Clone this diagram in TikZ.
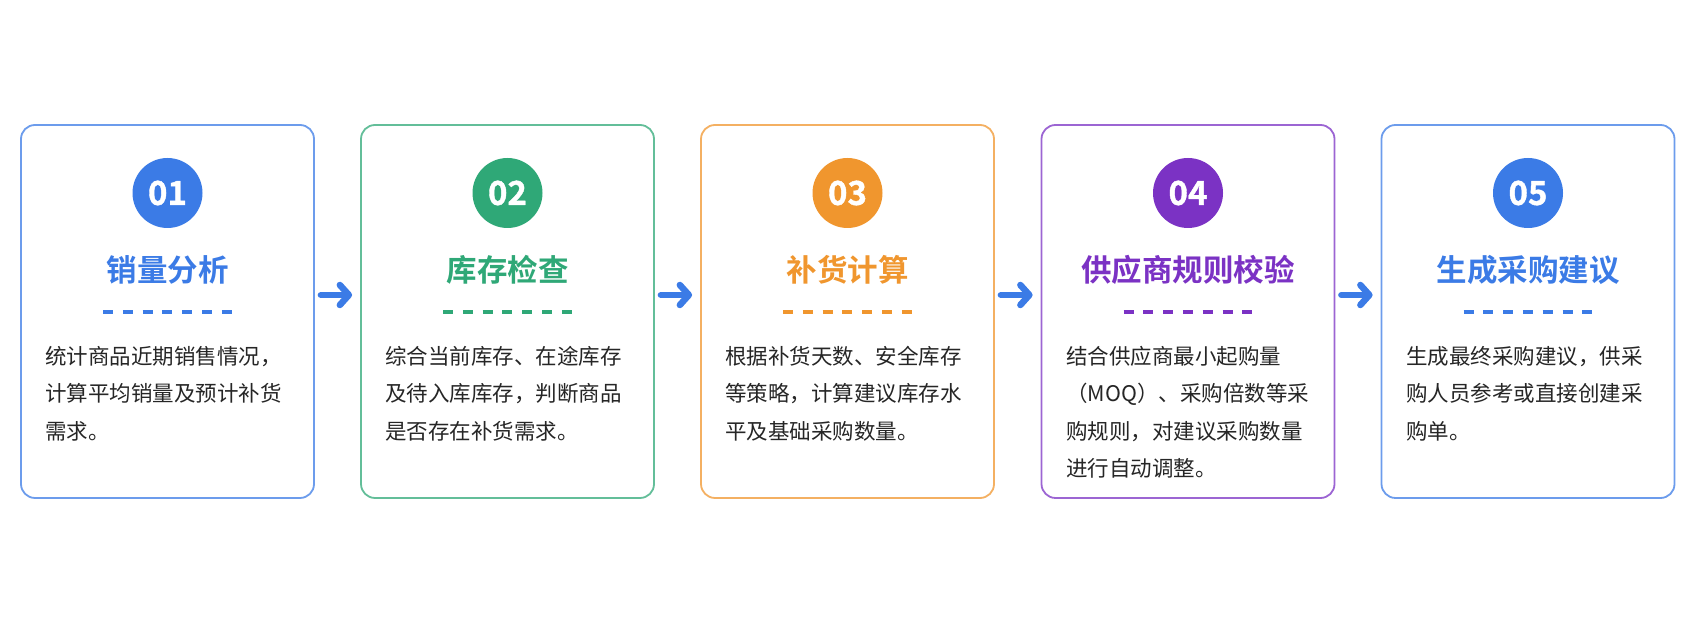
\documentclass[tikz,border=0pt]{standalone}
\usepackage{fontspec}
\setmainfont{Noto Sans CJK SC}[BoldFont={Noto Sans CJK SC Bold}]
\newfontfamily\numfont{Noto Sans CJK SC Bold}[FakeBold=1.2]
\usepackage{xcolor}
\usetikzlibrary{positioning, arrows.meta}

\definecolor{cblue}{HTML}{3B7BE6}
\definecolor{cgreen}{HTML}{2FA877}
\definecolor{corange}{HTML}{F0962E}
\definecolor{cpurple}{HTML}{7B32C4}
\definecolor{ctext}{HTML}{262626}

\begin{document}
\begin{tikzpicture}[
  x=1pt, y=1pt,
  card/.style={rectangle, rounded corners=14pt, draw=#1!75, line width=1.8pt, fill=white, minimum width=293pt, minimum height=373pt},
  num/.style={circle, fill=#1, text=white, minimum size=70pt, inner sep=0pt, font=\fontsize{33}{33}\selectfont\numfont},
  ttl/.style={text=#1, inner sep=0pt, font=\fontsize{30.5}{30.5}\selectfont\bfseries},
  dl/.style={draw=#1, line width=4pt, dash pattern=on 10pt off 9.8pt},
  body/.style={anchor=north west, inner sep=0pt, align=left, text=ctext, font=\fontsize{21.5}{37.5}\selectfont},
  arr/.style={draw=cblue, line width=6.5pt, line cap=round, -{Straight Barb[round, length=9pt, width=20pt]}, shorten <=6pt, shorten >=8pt}
]
\useasboundingbox (0,0) rectangle (1700,623);

% cards
\node[card=cblue] (box1) at (167.5,311.5) {};
\node[card=cgreen] (box2) at (507.5,311.5) {};
\node[card=corange] (box3) at (847.5,311.5) {};
\node[card=cpurple] (box4) at (1188,311.5) {};
\node[card=cblue] (box5) at (1528,311.5) {};

% numbers
\node[num=cblue] (n1) at (167.5,430) {01};
\node[num=cgreen] (n2) at (507.5,430) {02};
\node[num=corange] (n3) at (847.5,430) {03};
\node[num=cpurple] (n4) at (1188,430) {04};
\node[num=cblue] (n5) at (1528,430) {05};

% titles
\node[ttl=cblue] (t1) at (167.5,353) {销量分析};
\node[ttl=cgreen] (t2) at (507.5,353) {库存检查};
\node[ttl=corange] (t3) at (847.5,353) {补货计算};
\node[ttl=cpurple] (t4) at (1188,353) {供应商规则校验};
\node[ttl=cblue] (t5) at (1528,353) {生成采购建议};

% dashes under titles
\draw[dl=cblue] (103,311) -- (232,311);
\draw[dl=cgreen] (443,311) -- (572,311);
\draw[dl=corange] (783,311) -- (912,311);
\draw[dl=cpurple] (1123.5,311) -- (1252.5,311);
\draw[dl=cblue] (1463.5,311) -- (1592.5,311);

% descriptions
\node[body] (d1) at (45,277) {统计商品近期销售情况，\\计算平均销量及预计补货\\需求。};
\node[body] (d2) at (385,277) {综合当前库存、在途库存\\及待入库库存，判断商品\\是否存在补货需求。};
\node[body] (d3) at (725,277) {根据补货天数、安全库存\\等策略，计算建议库存水\\平及基础采购数量。};
\node[body] (d4) at (1066,277) {结合供应商最小起购量\\（MOQ）、采购倍数等采\\购规则，对建议采购数量\\进行自动调整。};
\node[body] (d5) at (1406,277) {生成最终采购建议，供采\\购人员参考或直接创建采\\购单。};

% arrows
\draw[arr] ([yshift=16.5pt]box1.east) -- ([yshift=16.5pt]box2.west);
\draw[arr] ([yshift=16.5pt]box2.east) -- ([yshift=16.5pt]box3.west);
\draw[arr] ([yshift=16.5pt]box3.east) -- ([yshift=16.5pt]box4.west);
\draw[arr] ([yshift=16.5pt]box4.east) -- ([yshift=16.5pt]box5.west);

\end{tikzpicture}
\end{document}
